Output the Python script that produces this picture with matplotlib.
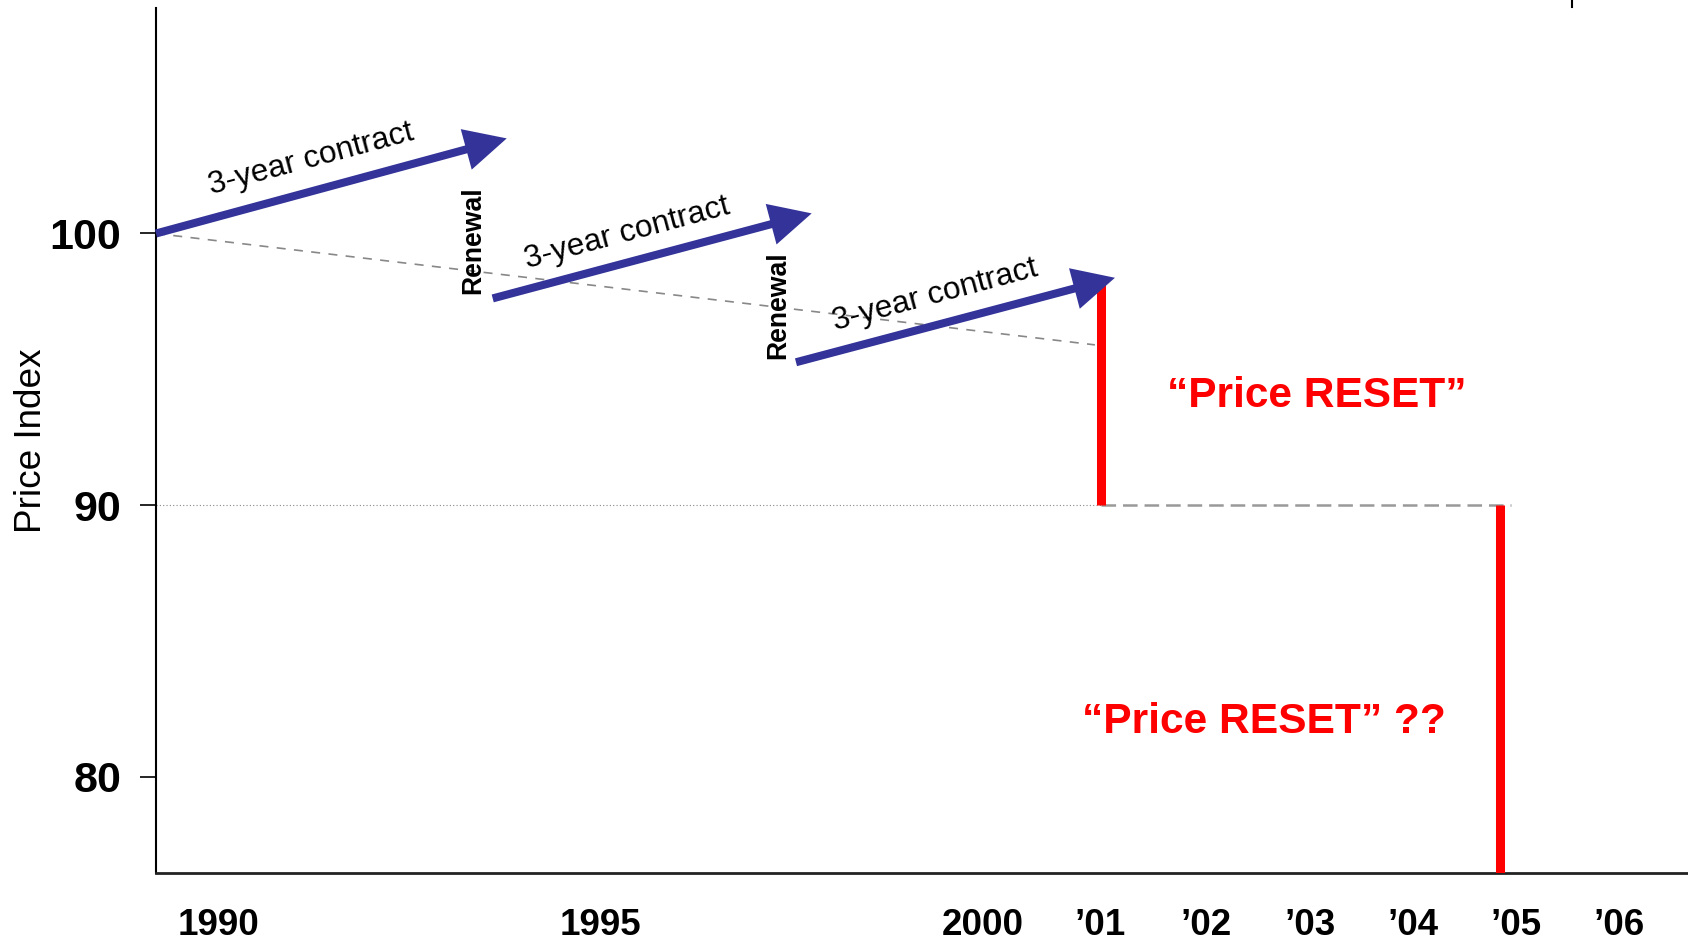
import matplotlib
matplotlib.use('Agg')
import matplotlib.pyplot as plt
from matplotlib.lines import Line2D

plt.rcParams['font.family'] = ['Liberation Sans', 'DejaVu Sans']

# ---- data (x in timeline units: ~1 unit per year on the 2001-2006 stretch) ----
x_tick_pos = [0.60, 4.28, 7.97, 9.10, 10.12, 11.12, 12.11, 13.10, 14.10]
x_tick_labels = ['1990', '1995', '2000', '\u201901', '\u201902', '\u201903',
                 '\u201904', '\u201905', '\u201906']
y_ticks = [80, 90, 100]
x_lim = (0.0, 14.76)
y_lim = (76.46, 108.30)

contract_start_x = [0.0, 3.244, 6.166]
contract_start_y = [100.0, 97.61, 95.26]
contract_end_x = [3.379, 6.317, 9.239]
contract_end_y = [103.50, 100.74, 98.37]
contract_label_x = [1.516, 4.559, 7.529]
contract_label_y = [102.46, 99.73, 97.46]
contract_label = '3-year contract'

renewal_x = [3.121, 6.06]
renewal_y = [99.76, 97.37]

trend_x = [0.0, 9.046]
trend_y = [100.0, 95.90]

floor_level = 90
floor_dotted_x = [0.0, 9.10]
floor_dashed_x = [9.10, 13.054]

reset_x = [9.10, 12.948]
reset_top = [98.3, 90.0]
reset_bottom = [90.0, y_lim[0]]

reset_label_x = [11.185, 10.674]
reset_label_y = [93.63, 81.60]
reset_labels = ['\u201cPrice RESET\u201d', '\u201cPrice RESET\u201d ??']
reset_label_sizes = [30.5, 30.6]

# ---- figure ----
fig = plt.figure(figsize=(16.88, 9.42), dpi=100)
ax = fig.add_axes([156 / 1688, 1 - 873 / 942, 1 - 156 / 1688, (873 - 8) / 942])
ax.set_xlim(*x_lim)
ax.set_ylim(*y_lim)

for s in ['top', 'right']:
    ax.spines[s].set_visible(False)
ax.spines['left'].set_linewidth(1.5)
ax.spines['left'].set_color('black')
ax.spines['bottom'].set_linewidth(2.0)
ax.spines['bottom'].set_color('#222222')

ax.set_yticks(y_ticks)
ax.set_yticklabels([str(v) for v in y_ticks], fontsize=31, fontweight='bold')
ax.tick_params(axis='y', length=11.5, width=1.2, pad=13.5, color='black')
ax.set_xticks(x_tick_pos)
ax.set_xticklabels(x_tick_labels, fontsize=26.5, fontweight='bold')
ax.tick_params(axis='x', length=0, pad=25.0)

ax.set_ylabel('Price Index', fontsize=26.6)
ax.yaxis.set_label_coords(-0.0696, 0.5)

# trend line (dashed, grey)
lw_t = 1.2
ax.plot(trend_x, trend_y, color='#888888', lw=lw_t,
        ls=(0, (6.5 / lw_t, 6.0 / lw_t)), zorder=2)
# floor level: dotted then dashed
ax.plot(floor_dotted_x, [floor_level] * 2, color='#888888', lw=0.8,
        ls=(0, (1.0, 2.0)), zorder=2)
lw_f = 1.8
ax.plot(floor_dashed_x, [floor_level] * 2, color='#999999', lw=lw_f,
        ls=(0, (10.5 / lw_f, 5.0 / lw_f)), zorder=2)

# red reset bars
for x, y0, y1 in zip(reset_x, reset_bottom, reset_top):
    ax.plot([x, x], [y0, y1], color='#FF0000', lw=6.5,
            solid_capstyle='butt', zorder=3)

# contract arrows
for x0, y0, x1, y1 in zip(contract_start_x, contract_start_y,
                          contract_end_x, contract_end_y):
    ax.annotate('', xy=(x1, y1), xytext=(x0, y0),
                arrowprops=dict(
                    arrowstyle='simple,head_length=30.2,head_width=30.2,tail_width=5.8',
                    mutation_scale=1, shrinkA=0, shrinkB=0,
                    fc='#333399', ec='none', lw=0),
                zorder=4)

for x, y in zip(contract_label_x, contract_label_y):
    ax.text(x, y, contract_label, fontsize=22.8, rotation=15,
            rotation_mode='anchor', ha='center', va='baseline', zorder=5)

for x, y in zip(renewal_x, renewal_y):
    ax.text(x, y, 'Renewal', fontsize=19.2, fontweight='bold', rotation=90,
            rotation_mode='anchor', ha='center', va='baseline', zorder=5)

for x, y, lab, fs in zip(reset_label_x, reset_label_y, reset_labels,
                         reset_label_sizes):
    ax.text(x, y, lab, fontsize=fs, fontweight='bold', color='#FF0000',
            ha='center', va='baseline', zorder=5)

# small stray mark at the top edge of the slide
fig.add_artist(Line2D([1572 / 1688] * 2, [1.0, 1 - 7 / 942],
                      transform=fig.transFigure, color='black', lw=1.5))

fig.savefig('out.png', dpi=100)
